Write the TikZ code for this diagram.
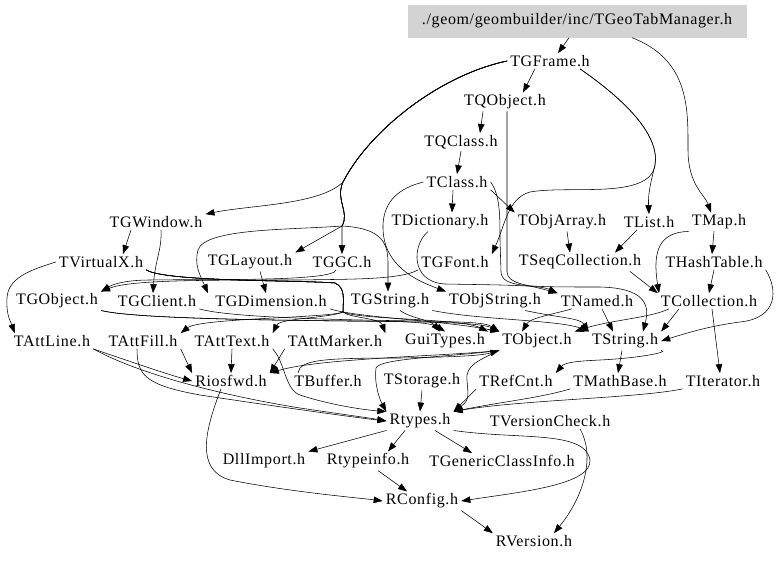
\documentclass[tikz,border=0pt]{standalone}
\usepackage{fontspec}
\setmainfont{Liberation Serif}[LetterSpace=4.0]
\usetikzlibrary{arrows.meta}
\definecolor{boxgray}{RGB}{211,211,211}
\begin{document}
\begin{tikzpicture}[x=1pt,y=-1pt,
  n/.style={font=\fontsize{16}{18}\selectfont, inner xsep=3pt, inner ysep=2pt},
  e/.style={-{Triangle[length=9pt,width=6.5pt]}, line width=0.55pt}]
\useasboundingbox[fill=white] (0,0) rectangle (779,562);
% nodes
\node[n, fill=boxgray, minimum width=339pt, minimum height=33pt] (mgr) at (577,21) {./geom/geombuilder/inc/TGeoTabManager.h};
\node[n] (TGFrame) at (550,61) {TGFrame.h};
\node[n] (TQObject) at (505,102) {TQObject.h};
\node[n] (TQClass) at (461,142) {TQClass.h};
\node[n] (TClass) at (457,182) {TClass.h};
\node[n] (TGWindow) at (156,222) {TGWindow.h};
\node[n] (TDictionary) at (440,222) {TDictionary.h};
\node[n] (TObjArray) at (562,222) {TObjArray.h};
\node[n] (TList) at (649,222) {TList.h};
\node[n] (TMap) at (719,222) {TMap.h};
\node[n] (TVirtualX) at (101,262) {TVirtualX.h};
\node[n] (TGLayout) at (250,262) {TGLayout.h};
\node[n] (TGGC) at (342,262) {TGGC.h};
\node[n] (TGFont) at (455,262) {TGFont.h};
\node[n] (TSeqCollection) at (580,262) {TSeqCollection.h};
\node[n] (THashTable) at (714,262) {THashTable.h};
\node[n] (TGObject) at (57,301) {TGObject.h};
\node[n] (TGClient) at (157,301) {TGClient.h};
\node[n] (TGDimension) at (271,301) {TGDimension.h};
\node[n] (TGString) at (390,301) {TGString.h};
\node[n] (TObjString) at (495,301) {TObjString.h};
\node[n] (TNamed) at (597,301) {TNamed.h};
\node[n] (TCollection) at (709,301) {TCollection.h};
\node[n] (TAttLine) at (52,341) {TAttLine.h};
\node[n] (TAttFill) at (143,341) {TAttFill.h};
\node[n] (TAttText) at (232,341) {TAttText.h};
\node[n] (TAttMarker) at (335,341) {TAttMarker.h};
\node[n] (GuiTypes) at (445,341) {GuiTypes.h};
\node[n] (TObject) at (537,341) {TObject.h};
\node[n] (TString) at (625,341) {TString.h};
\node[n] (Riosfwd) at (231,381) {Riosfwd.h};
\node[n] (TBuffer) at (328,381) {TBuffer.h};
\node[n] (TStorage) at (422,381) {TStorage.h};
\node[n] (TRefCnt) at (516,381) {TRefCnt.h};
\node[n] (TMathBase) at (620,381) {TMathBase.h};
\node[n] (TIterator) at (723,381) {TIterator.h};
\node[n] (Rtypes) at (420,421) {Rtypes.h};
\node[n] (TVersionCheck) at (550,421) {TVersionCheck.h};
\node[n] (DllImport) at (264,461) {DllImport.h};
\node[n] (Rtypeinfo) at (368,461) {Rtypeinfo.h};
\node[n] (TGenericClassInfo) at (502,461) {TGenericClassInfo.h};
\node[n] (RConfig) at (422,501) {RConfig.h};
\node[n] (RVersion) at (534,541) {RVersion.h};
% edges, top part
\draw[e] ([xshift=-8pt]mgr.south) -- ([xshift=8pt]TGFrame.north);
\draw[e] ([xshift=55pt]mgr.south) .. controls (690,60) and (688,110) .. (688,150) .. controls (688,185) and (705,195) .. ([xshift=-8pt]TMap.north);
\draw[e] ([xshift=-15pt]TGFrame.south) -- ([xshift=18pt]TQObject.north);
\draw[e] ([xshift=30pt]TGFrame.south) .. controls (625,100) and (660,135) .. (655,165) .. controls (650,185) and (648,195) .. (TList.north);
\draw[e] ([xshift=30pt]TGFrame.south) .. controls (625,100) and (660,135) .. (655,165) .. controls (650,200) and (570,185) .. (530,192) .. controls (508,198) and (505,225) .. (TGFont.north east);
\draw[e] (TGFrame.west) .. controls (440,75) and (370,130) .. (343,182) .. controls (320,205) and (250,205) .. (TGWindow.north east);
\draw[e] (TGFrame.west) .. controls (440,75) and (370,130) .. (343,182) .. controls (335,200) and (350,212) .. (342,226) -- (TGLayout.north east);
\draw[e] (TGFrame.west) .. controls (440,75) and (370,130) .. (343,182) .. controls (335,200) and (350,212) .. (342,226) -- (TGGC.north);
\draw[e] (TGFrame.west) .. controls (440,75) and (370,130) .. (343,182) .. controls (335,200) and (350,212) .. (342,226) .. controls (378,228) and (388,240) .. (388,262) -- ([xshift=-2pt]TGString.north);
\draw[e] (TGFrame.west) .. controls (440,75) and (370,130) .. (343,182) .. controls (335,200) and (350,212) .. (342,226) .. controls (290,230) and (205,228) .. (198,250) .. controls (194,265) and (200,275) .. ([xshift=-63pt]TGDimension.north);
\draw[e] ([xshift=-22pt]TQObject.south) -- ([xshift=19pt]TQClass.north);
\draw[e] ([xshift=2pt]TQObject.south) -- (507,272) .. controls (508,284) and (525,284) .. (TNamed.north west);
\draw[e] (TQClass.south) -- (TClass.north);
\draw[e] ([xshift=-4pt]TClass.south) -- ([xshift=12pt]TDictionary.north);
\draw[e] (TClass.south east) -- (TObjArray.north west);
\draw[e] (TClass.west) .. controls (400,188) and (384,200) .. (383,225) .. controls (382,265) and (415,280) .. (TObjString.north west);
\draw[e] (TClass.east) .. controls (500,195) and (500,215) .. (500,240) -- (501,272) .. controls (502,287) and (525,287) .. (600,287) .. controls (645,288) and (650,305) .. ([xshift=18pt]TString.north);
\draw[e] ([xshift=-12pt]TDictionary.south) .. controls (412,245) and (410,282) .. (445,284) .. controls (500,285) and (540,285) .. (TNamed.north west);
\draw[e] ([xshift=-12pt]TList.south) -- ([xshift=35pt]TSeqCollection.north);
\draw[e] ([xshift=5pt]TObjArray.south) -- ([xshift=-10pt]TSeqCollection.north);
\draw[e] ([xshift=50pt]TSeqCollection.south) -- (TCollection.north west);
\draw[e] (TMap.south west) .. controls (660,232) and (652,250) .. ([xshift=-50pt]TCollection.north);
\draw[e] ([xshift=-5pt]TMap.south) -- ([xshift=-2pt]THashTable.north);
\draw[e] (THashTable.south) -- (TCollection.north);
\draw[e] (THashTable.south east) .. controls (778,290) and (778,318) .. (740,322) .. controls (710,326) and (690,332) .. (TString.east);
\draw[e] ([xshift=3pt]TCollection.south) -- ([xshift=-3pt]TIterator.north);
\draw[e] ([xshift=-30pt]TCollection.south) -- (TString.north east);
\draw[e] ([xshift=-40pt]TCollection.south) .. controls (650,318) and (610,320) .. (TObject.north east);
\draw[e] ([xshift=5pt]TNamed.south) -- ([xshift=-12pt]TString.north);
\draw[e] ([xshift=-25pt]TNamed.south) .. controls (550,315) and (530,318) .. ([xshift=-15pt]TObject.north);
\draw[e] ([xshift=30pt]TObjString.south) .. controls (560,318) and (580,318) .. (TString.north west);
% left part
\draw[e] ([xshift=-25pt]TGWindow.south) -- ([xshift=22pt]TVirtualX.north);
\draw[e] ([xshift=5pt]TGWindow.south) .. controls (162,250) and (155,260) .. ([xshift=-4pt]TGClient.north);
\draw[e] (TVirtualX.west) .. controls (30,270) and (8,278) .. (7,298) .. controls (6,314) and (10,320) .. ([xshift=4pt]TAttLine.north west);
\draw[e] (TVirtualX.south east) .. controls (165,282) and (300,280) .. (335,283) .. controls (346,288) and (343,300) .. (343,312) .. controls (330,318) and (200,318) .. (TAttFill.north east);
\draw[e] (TVirtualX.south east) .. controls (165,282) and (300,280) .. (335,283) .. controls (346,288) and (343,300) .. (343,312) .. controls (330,318) and (280,318) .. (TAttText.north east);
\draw[e] (TVirtualX.south east) .. controls (165,282) and (300,280) .. (335,283) .. controls (346,288) and (343,300) .. (343,312) .. controls (350,318) and (380,318) .. (TAttMarker.north east);
\draw[e] (TVirtualX.south east) .. controls (165,282) and (300,280) .. (335,283) .. controls (346,288) and (343,300) .. (343,312) .. controls (360,320) and (460,318) .. (GuiTypes.north east);
\draw[e] ([xshift=-6pt]TGGC.south) .. controls (335,282) and (200,279) .. (150,280) .. controls (130,280) and (115,283) .. (TGObject.north east);
\draw[e] (TGFont.south west) .. controls (400,280) and (350,279) .. (300,280) .. controls (200,280) and (130,280) .. (TGObject.north east);
\draw[e] ([xshift=10pt]TGLayout.south) -- ([xshift=-5pt]TGDimension.north);
\draw[e] (TGObject.south east) .. controls (130,318) and (250,320) .. (350,321) .. controls (400,321) and (430,322) .. (GuiTypes.north);
\draw[e] (TGObject.south east) .. controls (130,318) and (250,320) .. (350,321) .. controls (420,322) and (480,322) .. (TObject.north west);
\draw[e] (TGClient.south east) .. controls (230,318) and (350,320) .. (420,321) .. controls (460,322) and (485,322) .. (TObject.north west);
\draw[e] (TGDimension.south east) .. controls (360,318) and (440,320) .. (TObject.north west);
\draw[e] ([xshift=10pt]TGString.south) .. controls (410,318) and (430,320) .. ([xshift=-5pt]GuiTypes.north);
\draw[e] (TGString.south east) .. controls (480,320) and (560,320) .. (TString.north west);
% lower part
\draw[e] (TAttLine.south east) .. controls (150,380) and (250,400) .. (300,408) .. controls (340,414) and (370,418) .. (Rtypes.west);
\draw[e] (TAttLine.south east) .. controls (140,365) and (170,375) .. (Riosfwd.west);
\draw[e] (TAttFill.south east) -- (Riosfwd.north west);
\draw[e] ([xshift=-6pt]TAttFill.south) .. controls (137,375) and (145,385) .. (200,395) .. controls (300,410) and (360,418) .. (Rtypes.west);
\draw[e] (TAttText.south) -- (Riosfwd.north);
\draw[e] (TAttText.south east) .. controls (285,362) and (285,390) .. (300,395) .. controls (330,405) and (365,410) .. (Rtypes.north west);
\draw[e] (TAttMarker.south west) -- (Riosfwd.north east);
\draw[e] (TObject.south west) .. controls (450,356) and (320,358) .. (Riosfwd.north east);
\draw[e] ([xshift=-30pt]TBuffer.north) .. controls (300,360) and (320,358) .. (400,358) .. controls (450,357) and (480,356) .. (TObject.south west);
\draw[e] (TObject.south west) .. controls (450,357) and (380,358) .. (376,368) .. controls (374,385) and (380,400) .. (Rtypes.north west);
\draw[e] (TObject.south west) .. controls (480,360) and (465,365) .. (467,380) .. controls (468,395) and (470,400) .. (Rtypes.north east);
\draw[e] (TStorage.south) -- (Rtypes.north);
\draw[e] ([xshift=-3pt]TString.south) -- ([xshift=-2pt]TMathBase.north);
\draw[e] (TString.south east) .. controls (670,352) and (640,358) .. (600,360) .. controls (580,361) and (565,362) .. (TRefCnt.north east);
\draw[e] (TMathBase.south west) .. controls (540,398) and (500,402) .. (Rtypes.north east);
\draw[e] (TIterator.south west) .. controls (640,398) and (520,400) .. (Rtypes.north east);
\draw[e] (TRefCnt.south west) -- (Rtypes.north east);
\draw[e] (Rtypes.south west) -- (DllImport.north east);
\draw[e] ([xshift=-15pt]Rtypes.south) -- ([xshift=20pt]Rtypeinfo.north);
\draw[e] ([xshift=15pt]Rtypes.south) -- ([xshift=-30pt]TGenericClassInfo.north);
\draw[e] (Rtypes.south east) .. controls (520,440) and (585,430) .. (590,460) .. controls (592,485) and (520,492) .. (RConfig.east);
\draw[e] ([xshift=10pt]Rtypeinfo.south) -- ([xshift=-15pt]RConfig.north);
\draw[e] (RConfig.south east) -- (RVersion.north west);
\draw[e] ([xshift=30pt]TVersionCheck.south) .. controls (595,455) and (585,495) .. ([xshift=20pt]RVersion.north);
\draw[e] ([xshift=-10pt]Riosfwd.south) .. controls (205,430) and (195,470) .. (230,480) .. controls (290,492) and (360,498) .. (RConfig.west);
\end{tikzpicture}
\end{document}
